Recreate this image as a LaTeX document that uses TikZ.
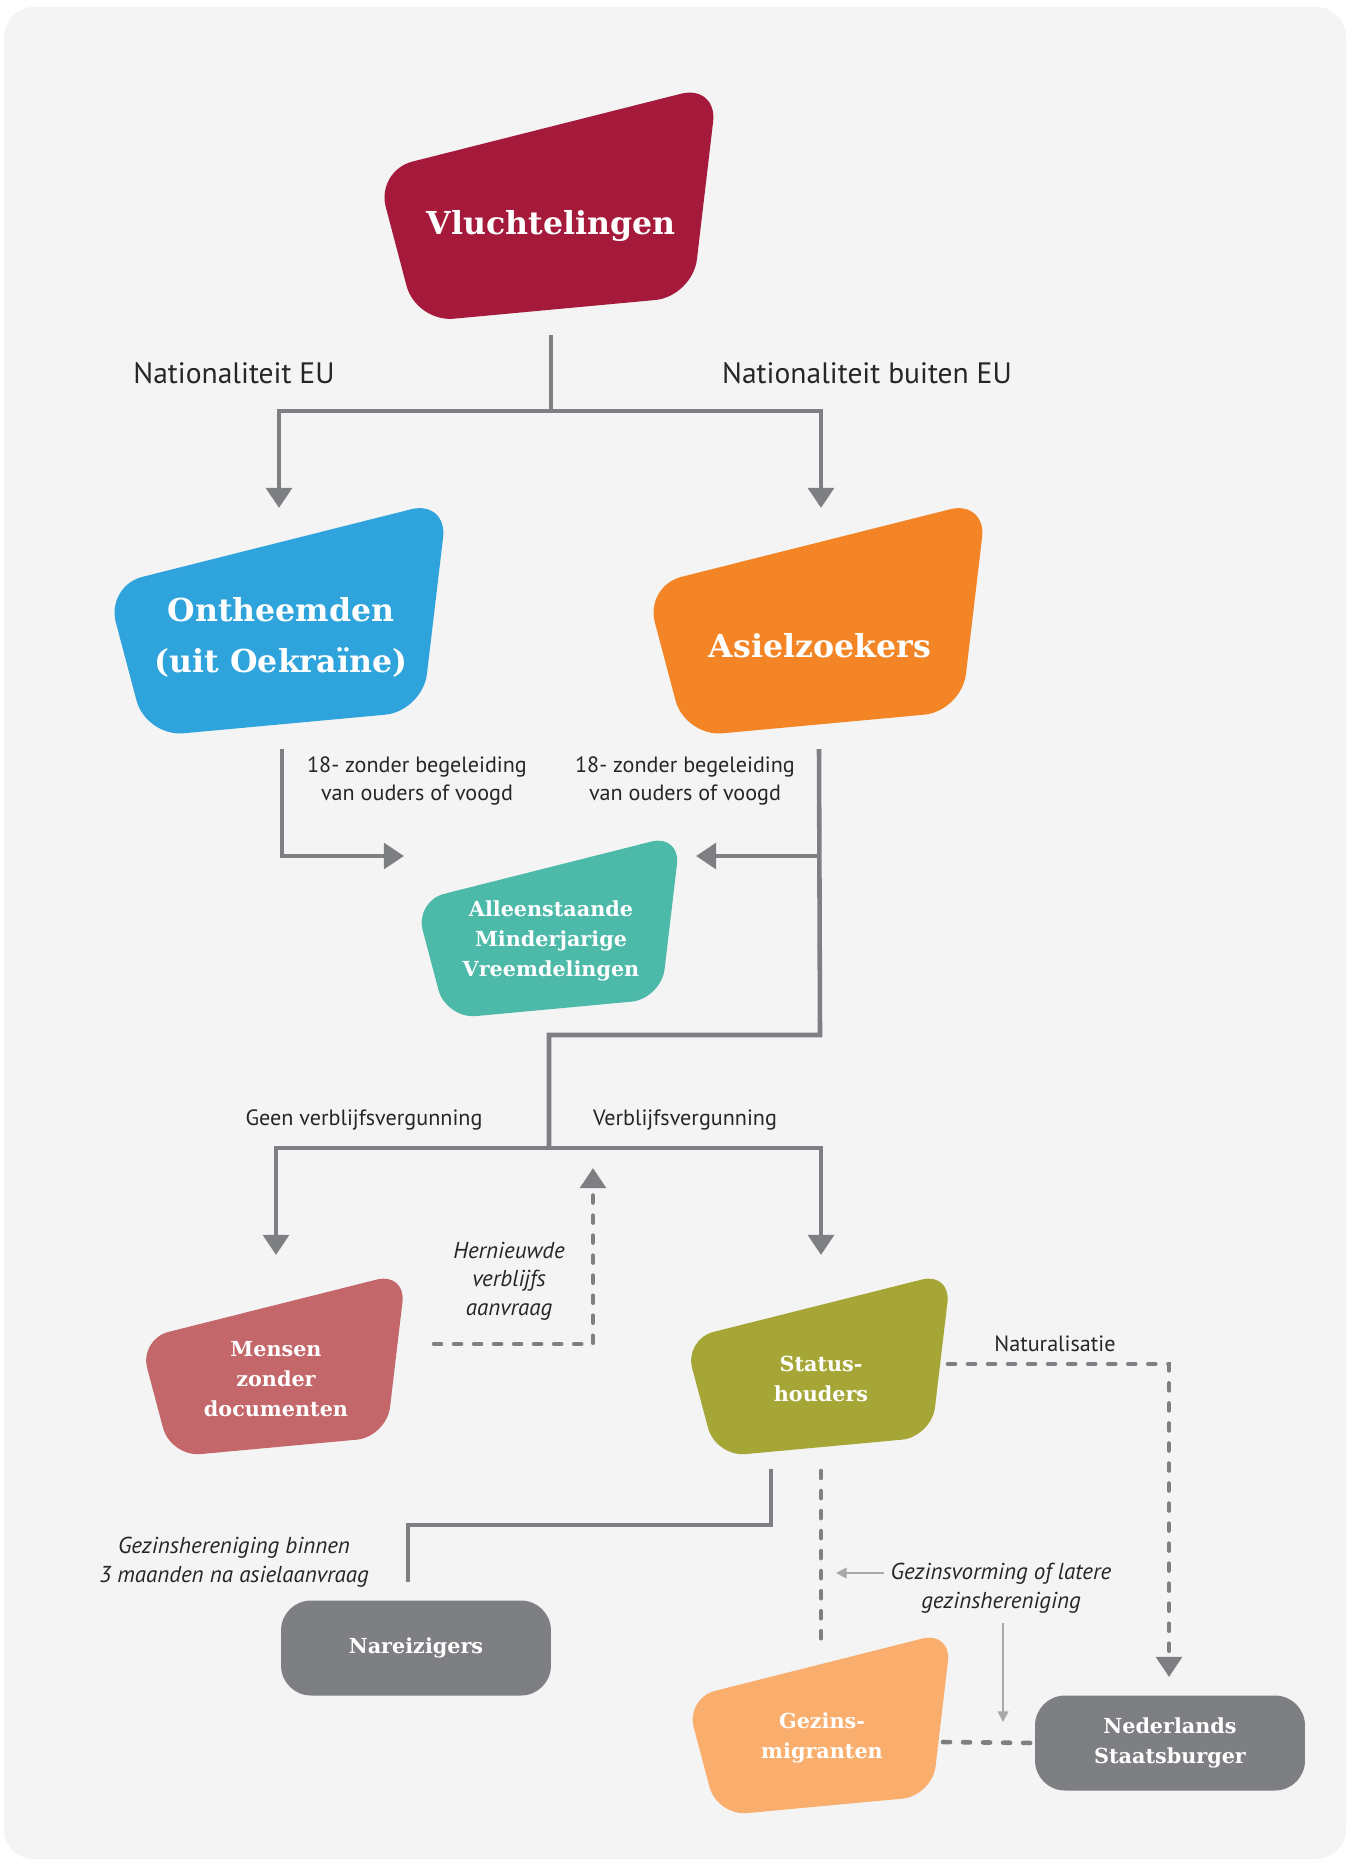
\documentclass[tikz,border=0pt]{standalone}
\usepackage{fontspec}
\setmainfont{PT Sans}
\newfontfamily\blobfont{DejaVu Serif}
\usetikzlibrary{arrows.meta,calc,backgrounds}

\definecolor{bgcol}{HTML}{F3F4F3}
\definecolor{linecol}{HTML}{7D7F82}
\definecolor{thincol}{HTML}{A7A9AB}
\definecolor{vluchtcol}{HTML}{A51A3A}
\definecolor{onthcol}{HTML}{2FA3DB}
\definecolor{asielcol}{HTML}{F48527}
\definecolor{amvcol}{HTML}{4DB9A9}
\definecolor{mensencol}{HTML}{C4676A}
\definecolor{statuscol}{HTML}{A6A636}
\definecolor{gezinscol}{HTML}{F9AE6E}
\definecolor{graycol}{HTML}{7D7F82}

% #1 node, #2 width, #3 height, #4 corner radius, #5 colour
\newcommand\blobshape[5]{%
  \fill[#5, rounded corners=#4]
    ($(#1)+({0.50*#2},{-0.59*#3})$) --
    ($(#1)+({-0.525*#2},{-0.22*#3})$) --
    ($(#1)+({-0.405*#2},{0.43*#3})$) --
    ($(#1)+({0.425*#2},{0.32*#3})$) -- cycle;}

\tikzset{
  bigtext/.style={text=white, align=center, font=\blobfont\bfseries\fontsize{18}{29}\selectfont},
  smalltext/.style={text=white, align=center, font=\blobfont\bfseries\fontsize{11.8}{17.2}\selectfont},
  graybox/.style={smalltext, fill=graycol, rounded corners=0.6cm, minimum width=5.4cm, minimum height=1.9cm},
  lbl/.style={text=black!85, font=\fontsize{16.8}{20}\selectfont},
  smalllbl/.style={align=center, text=black!85, font=\fontsize{12.6}{16.2}\selectfont},
  itlbl/.style={smalllbl, font=\itshape\fontsize{13.1}{16.2}\selectfont},
  conn/.style={draw=linecol, line width=2.6pt},
  dconn/.style={conn, dash pattern=on 4pt off 7.4pt, line cap=round},
  tip/.style={-{Triangle[length=11.4pt,width=14.4pt]}},
  thinarrow/.style={draw=thincol, line width=1.1pt, -{Triangle[length=6pt,width=6pt]}},
}

\begin{document}
\begin{tikzpicture}[x=0.02cm, y=-0.02cm]
  \useasboundingbox (0,0) rectangle (1351,1865);

  % groepen
  \node[bigtext] (vlucht) at (551,226) {Vluchtelingen};
  \node[bigtext] (onth) at (281,637) {Ontheemden\\(uit Oekraïne)};
  \node[bigtext] (asiel) at (820,646) {Asielzoekers};
  \node[smalltext] (amv) at (551,941) {Alleenstaande\\Minderjarige\\Vreemdelingen};
  \node[smalltext] (mensen) at (276,1379) {Mensen\\zonder\\documenten};
  \node[smalltext] (status) at (821,1379) {Status-\\houders};
  \node[smalltext] (gezins) at (822,1738) {Gezins-\\migranten};
  \node[graybox] (nareiz) at (416,1648) {Nareizigers};
  \node[graybox] (nlburg) at (1170,1743) {Nederlands\\Staatsburger};

  \begin{scope}[on background layer]
    \fill[white] (0,0) rectangle (1351,1865);
    \fill[bgcol, rounded corners=0.6cm] (4,7) rectangle (1346,1859);
    \blobshape{$(vlucht)+(0,-4)$}{333}{233}{0.75cm}{vluchtcol}
    \blobshape{onth}{333}{232}{0.75cm}{onthcol}
    \blobshape{$(asiel)+(0,-9)$}{333}{232}{0.75cm}{asielcol}
    \blobshape{amv}{259}{181}{0.6cm}{amvcol}
    \blobshape{mensen}{260}{181}{0.6cm}{mensencol}
    \blobshape{status}{260}{181}{0.6cm}{statuscol}
    \blobshape{gezins}{259}{181}{0.6cm}{gezinscol}
  \end{scope}

  % labels
  \node[lbl] (natEU) at (234,373) {Nationaliteit EU};
  \node[lbl] (natbuiten) at (867,373) {Nationaliteit buiten EU};
  \node[smalllbl] (minderL) at (417,781) {18- zonder begeleiding\\van ouders of voogd};
  \node[smalllbl] (minderR) at (685,781) {18- zonder begeleiding\\van ouders of voogd};
  \node[smalllbl] (geenvv) at (364,1120) {Geen verblijfsvergunning};
  \node[smalllbl] (vv) at (685,1120) {Verblijfsvergunning};
  \node[itlbl] (hernieuw) at (509,1281) {Hernieuwde\\verblijfs\\aanvraag};
  \node[smalllbl] (natural) at (1055,1344) {Naturalisatie};
  \node[itlbl] (gezher) at (234,1562) {Gezinshereniging binnen\\3 maanden na asielaanvraag};
  \node[itlbl] (gzlabel) at (1001,1588) {Gezinsvorming of latere\\gezinshereniging};

  % verbindingen
  \coordinate (fork1) at (551,411);
  \coordinate (bend2) at (820,1035);
  \coordinate (fork2) at (549,1148);

  \draw[conn] ($(vlucht)+(0,109)$) -- (fork1);
  \draw[conn,tip] (fork1) -| ($(onth)+(-2,-129)$);
  \draw[conn,tip] (fork1) -| ($(asiel)+(1,-138)$);
  \draw[conn,tip] ($(onth)+(1,112)$) |- ($(amv)+(-147,-85)$);
  \draw[conn] ($(asiel)+(-1,103)$) -- (bend2) -| (fork2);
  \draw[conn,tip] ($(asiel)+(-1,210)$) -- ($(amv)+(145,-85)$);
  \draw[conn,tip] (fork2) -| ($(mensen)+(0,-124)$);
  \draw[conn,tip] (fork2) -| ($(status)+(0,-124)$);

  \draw[dconn,tip] ($(mensen)+(158,-35)$) -| ($(fork2)+(44,20)$);
  \draw[dconn,tip] ($(status)+(127,-15)$) -| ($(nlburg)+(-1,-66)$);
  \draw[conn] ($(status)+(-50,90)$) -- ++(0,56) -| ($(nareiz)+(-8,-66)$);
  \draw[dconn] ($(status)+(0,92)$) -- ($(gezins)+(-1,-93)$);
  \draw[dconn] ($(gezins)+(121,4)$) -- (nlburg.west);

  \draw[thinarrow] ($(gzlabel)+(-117,-15)$) -- ++(-48,0);
  \draw[thinarrow] ($(gzlabel)+(2,35)$) -- ++(0,99);
\end{tikzpicture}
\end{document}
